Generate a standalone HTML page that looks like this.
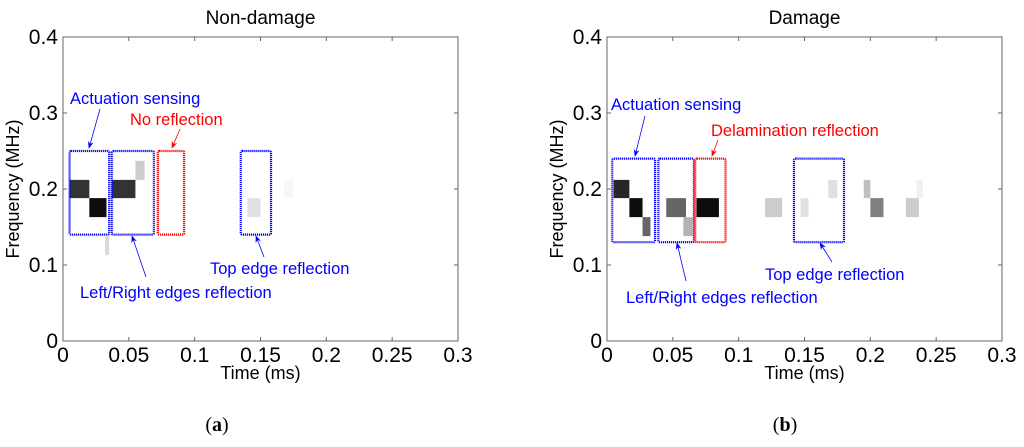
<!DOCTYPE html>
<html><head><meta charset="utf-8"><style>
body{margin:0;background:#fff;width:1024px;height:442px;overflow:hidden}
svg{font-family:"Liberation Sans",sans-serif}
</style></head><body>
<svg id="s" width="1024" height="442">
<defs>
<marker id="ab" viewBox="0 0 10 10" refX="9" refY="5" markerWidth="9" markerHeight="9" orient="auto"><path d="M0,1 L10,5 L0,9 L3,5z" fill="#0000ff"/></marker>
<marker id="ar" viewBox="0 0 10 10" refX="9" refY="5" markerWidth="9" markerHeight="9" orient="auto"><path d="M0,1 L10,5 L0,9 L3,5z" fill="#ff0000"/></marker>
</defs>
</svg>
<script>
// patches: [t0, t1, f0, f1, intensity 0..1]
const patchesA = [[0.005,0.02,0.188,0.212,0.8],[0.02,0.033,0.163,0.188,0.95],[0.032,0.035,0.113,0.138,0.15],[0.037,0.055,0.188,0.212,0.8],[0.055,0.062,0.212,0.237,0.2],[0.14,0.15,0.163,0.188,0.12],[0.135,0.14,0.188,0.212,0.03],[0.168,0.175,0.188,0.212,0.03]];
const patchesB = [[0.005,0.017,0.188,0.212,0.85],[0.017,0.027,0.163,0.188,0.95],[0.027,0.033,0.138,0.163,0.6],[0.045,0.06,0.163,0.188,0.6],[0.058,0.065,0.138,0.163,0.3],[0.068,0.085,0.163,0.188,0.95],[0.12,0.133,0.163,0.188,0.2],[0.147,0.153,0.163,0.188,0.12],[0.168,0.175,0.188,0.212,0.12],[0.195,0.2,0.188,0.212,0.25],[0.2,0.21,0.163,0.188,0.5],[0.227,0.237,0.163,0.188,0.2],[0.235,0.24,0.188,0.212,0.06]];
// boxes: [t0,t1,f0,f1,color]
const boxesA = [[0.005,0.035,0.14,0.25,'#0000ff'],[0.037,0.069,0.14,0.25,'#0000ff'],[0.072,0.092,0.14,0.25,'#ff0000'],[0.135,0.158,0.14,0.25,'#0000ff']];
const boxesB = [[0.004,0.0365,0.13,0.24,'#0000ff'],[0.039,0.066,0.13,0.24,'#0000ff'],[0.067,0.09,0.13,0.24,'#ff0000'],[0.142,0.18,0.13,0.24,'#0000ff']];
const xTicks = [0,0.05,0.1,0.15,0.2,0.25,0.3];
const yTicks = [0,0.1,0.2,0.3,0.4];
const NS='http://www.w3.org/2000/svg', svg=document.getElementById('s');
function el(tag,attrs,parent,txt){const e=document.createElementNS(NS,tag);for(const k in attrs)e.setAttribute(k,attrs[k]);if(txt!==undefined)e.textContent=txt;(parent||svg).appendChild(e);return e;}
function panel(x0,title,patches,boxes,id){
  const W=395,top=37,bot=341;
  const X=t=>x0+t/0.3*W, Y=f=>bot-f/0.4*(bot-top);
  const g=el('g',{});
  
  
  patches.forEach(p=>{const v=Math.round(255*(1-p[4]));
    const r=el('rect',{x:X(p[0]),y:Y(p[3]),width:X(p[1])-X(p[0]),height:Y(p[2])-Y(p[3]),fill:`rgb(${v},${v},${v})`},g);
    
    });
  boxes.forEach(b=>{const r=el('rect',{x:X(b[0]),y:Y(b[3]),width:X(b[1])-X(b[0]),height:Y(b[2])-Y(b[3]),fill:'none',stroke:b[4],'stroke-width':2.2,'stroke-dasharray':'1.2 0.8',rx:1.5},g);
    
    });
  const ax=el('rect',{x:x0,y:top,width:W,height:bot-top,fill:'none',stroke:'#666','stroke-width':1},g);
  
  
  xTicks.forEach(t=>{el('line',{x1:X(t),x2:X(t),y1:bot,y2:bot-4,stroke:'#666'},g);el('line',{x1:X(t),x2:X(t),y1:top,y2:top+4,stroke:'#666'},g);
    const l=el('text',{x:X(t),y:bot+21,'text-anchor':'middle','font-size':21},g,String(t));
    
    });
  yTicks.forEach(f=>{el('line',{x1:x0,x2:x0+4,y1:Y(f),y2:Y(f),stroke:'#666'},g);el('line',{x1:x0+W,x2:x0+W-4,y1:Y(f),y2:Y(f),stroke:'#666'},g);
    const l=el('text',{x:x0-5,y:Y(f)+7,'text-anchor':'end','font-size':21},g,String(f));
    
    });
  const t=el('text',{x:x0+W/2,y:24,'text-anchor':'middle','font-size':19},g,title);
  
  
  const xl=el('text',{x:x0+W/2,y:379,'text-anchor':'middle','font-size':18},g,'Time (ms)');
  
  
  const yl=el('text',{x:0,y:0,'text-anchor':'middle','font-size':18,transform:`translate(${x0-44},${(top+bot)/2}) rotate(-90)`},g,'Frequency (MHz)');
  
  
  return {X,Y,g};
}
function note(g,x,y,txt,col,ax1,ay1,ax2,ay2){
  const t=el('text',{x:x,y:y,'font-size':16.5,fill:col},g,txt);
  
  
  const l=el('line',{x1:ax1,y1:ay1,x2:ax2,y2:ay2,stroke:col,'stroke-width':0.8,'marker-end':col=='#ff0000'?'url(#ar)':'url(#ab)'},g);
  
  
}
const a=panel(63,'Non-damage',patchesA,boxesA,'non-damage');
note(a.g,70,104,'Actuation sensing','#0000ff',100,109,89,148);
note(a.g,130,125,'No reflection','#ff0000',180,129,172,148);
note(a.g,80,298,'Left/Right edges reflection','#0000ff',146,277,132,236);
note(a.g,210,274,'Top edge reflection','#0000ff',264,257,256,236);
const b=panel(607,'Damage',patchesB,boxesB,'damage');
note(b.g,611,110,'Actuation sensing','#0000ff',645,116,635,156);
note(b.g,711,136,'Delamination reflection','#ff0000',718,140,712,156);
note(b.g,765,280,'Top edge reflection','#0000ff',832,262,820,243);
note(b.g,626,303,'Left/Right edges reflection','#0000ff',686,281,677,243);
[['a',217],['b',785]].forEach(p=>{const t=el('text',{x:p[1],y:431,'text-anchor':'middle','font-size':20,'font-family':'Liberation Serif, serif'},svg);
el('tspan',{},t,'(');el('tspan',{'font-weight':'bold'},t,p[0]);el('tspan',{},t,')');

});
</script>
</body></html>
